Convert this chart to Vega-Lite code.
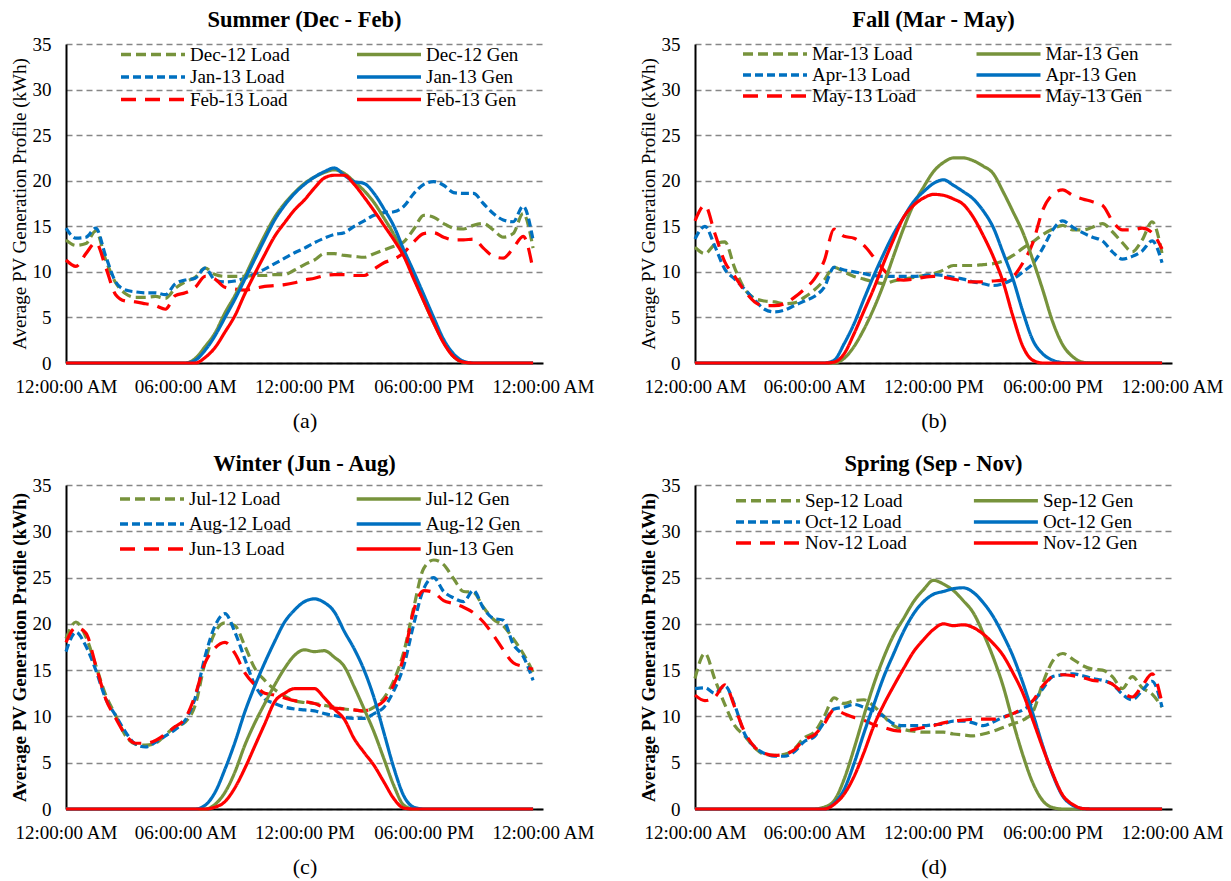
{
"$schema":"https://vega.github.io/schema/vega-lite/v6.json",
"background":"white",
"padding":{"left":10,"top":9,"right":4,"bottom":4},
"config":{
 "view":{"stroke":null},
 "font":"Liberation Serif",
 "axis":{"labelFont":"Liberation Serif","labelFontSize":19,"labelColor":"#000","titleFont":"Liberation Serif","titleColor":"#000","domainColor":"#000","domainWidth":2,"ticks":false},
 "axisX":{"grid":false,"labelPadding":14,"titleFontSize":22,"titleFontWeight":"normal","titlePadding":14,"labelOverlap":false,"labelBound":false,"labelFlush":false},
 "axisY":{"grid":true,"gridDash":[6,4],"gridColor":"#878787","gridWidth":1.3,"labelPadding":15,"titleFontSize":19,"titlePadding":3},
 "legend":{"orient":"none","columns":2,"symbolType":"M-4,0H4","symbolSize":256,"symbolOffset":22,"labelOffset":27,"symbolStrokeWidth":3.5,"padding":0,"labelFont":"Liberation Serif","labelFontSize":19,"labelColor":"#000","labelLimit":400},
 "title":{"font":"Liberation Serif","fontSize":22.5,"fontWeight":"bold","color":"#000","frame":"group"}
},
"datasets":{
"a":[
{"s":"Dec-12 Load","h":0,"v":13.5},{"s":"Dec-12 Load","h":0.5,"v":12.9},{"s":"Dec-12 Load","h":1,"v":13.1},{"s":"Dec-12 Load","h":1.5,"v":14.5},{"s":"Dec-12 Load","h":2,"v":11.3},{"s":"Dec-12 Load","h":2.5,"v":8.8},{"s":"Dec-12 Load","h":3,"v":7.6},{"s":"Dec-12 Load","h":3.5,"v":7.2},{"s":"Dec-12 Load","h":4,"v":7.2},{"s":"Dec-12 Load","h":4.5,"v":7.3},{"s":"Dec-12 Load","h":5,"v":7.1},{"s":"Dec-12 Load","h":5.5,"v":8.2},{"s":"Dec-12 Load","h":6,"v":8.9},{"s":"Dec-12 Load","h":6.5,"v":9.4},{"s":"Dec-12 Load","h":7,"v":10.4},{"s":"Dec-12 Load","h":7.5,"v":9.7},{"s":"Dec-12 Load","h":8,"v":9.5},{"s":"Dec-12 Load","h":8.5,"v":9.5},{"s":"Dec-12 Load","h":9,"v":9.5},{"s":"Dec-12 Load","h":9.5,"v":9.6},{"s":"Dec-12 Load","h":10,"v":9.6},{"s":"Dec-12 Load","h":10.5,"v":9.7},{"s":"Dec-12 Load","h":11,"v":9.7},{"s":"Dec-12 Load","h":11.5,"v":10.2},{"s":"Dec-12 Load","h":12,"v":10.8},{"s":"Dec-12 Load","h":12.5,"v":11.3},{"s":"Dec-12 Load","h":13,"v":12.0},{"s":"Dec-12 Load","h":13.5,"v":12.0},{"s":"Dec-12 Load","h":14,"v":11.8},{"s":"Dec-12 Load","h":14.5,"v":11.7},{"s":"Dec-12 Load","h":15,"v":11.6},{"s":"Dec-12 Load","h":15.5,"v":12.0},{"s":"Dec-12 Load","h":16,"v":12.4},{"s":"Dec-12 Load","h":16.5,"v":12.8},{"s":"Dec-12 Load","h":17,"v":13.3},{"s":"Dec-12 Load","h":17.5,"v":14.7},{"s":"Dec-12 Load","h":18,"v":16.2},{"s":"Dec-12 Load","h":18.5,"v":16.0},{"s":"Dec-12 Load","h":19,"v":15.3},{"s":"Dec-12 Load","h":19.5,"v":14.8},{"s":"Dec-12 Load","h":20,"v":14.7},{"s":"Dec-12 Load","h":20.5,"v":15.1},{"s":"Dec-12 Load","h":21,"v":15.3},{"s":"Dec-12 Load","h":21.5,"v":14.6},{"s":"Dec-12 Load","h":22,"v":13.8},{"s":"Dec-12 Load","h":22.5,"v":14.2},{"s":"Dec-12 Load","h":23,"v":16.4},{"s":"Dec-12 Load","h":23.5,"v":12.6},
{"s":"Jan-13 Load","h":0,"v":14.8},{"s":"Jan-13 Load","h":0.5,"v":13.7},{"s":"Jan-13 Load","h":1,"v":13.8},{"s":"Jan-13 Load","h":1.5,"v":14.8},{"s":"Jan-13 Load","h":2,"v":11.7},{"s":"Jan-13 Load","h":2.5,"v":8.9},{"s":"Jan-13 Load","h":3,"v":8.0},{"s":"Jan-13 Load","h":3.5,"v":7.8},{"s":"Jan-13 Load","h":4,"v":7.7},{"s":"Jan-13 Load","h":4.5,"v":7.7},{"s":"Jan-13 Load","h":5,"v":7.5},{"s":"Jan-13 Load","h":5.5,"v":8.7},{"s":"Jan-13 Load","h":6,"v":9.1},{"s":"Jan-13 Load","h":6.5,"v":9.3},{"s":"Jan-13 Load","h":7,"v":10.4},{"s":"Jan-13 Load","h":7.5,"v":9.1},{"s":"Jan-13 Load","h":8,"v":8.9},{"s":"Jan-13 Load","h":8.5,"v":9.0},{"s":"Jan-13 Load","h":9,"v":9.3},{"s":"Jan-13 Load","h":9.5,"v":9.8},{"s":"Jan-13 Load","h":10,"v":10.3},{"s":"Jan-13 Load","h":10.5,"v":10.9},{"s":"Jan-13 Load","h":11,"v":11.5},{"s":"Jan-13 Load","h":11.5,"v":12.1},{"s":"Jan-13 Load","h":12,"v":12.6},{"s":"Jan-13 Load","h":12.5,"v":13.2},{"s":"Jan-13 Load","h":13,"v":13.7},{"s":"Jan-13 Load","h":13.5,"v":14.1},{"s":"Jan-13 Load","h":14,"v":14.3},{"s":"Jan-13 Load","h":14.5,"v":15.0},{"s":"Jan-13 Load","h":15,"v":15.6},{"s":"Jan-13 Load","h":15.5,"v":16.2},{"s":"Jan-13 Load","h":16,"v":16.5},{"s":"Jan-13 Load","h":16.5,"v":16.6},{"s":"Jan-13 Load","h":17,"v":17.2},{"s":"Jan-13 Load","h":17.5,"v":18.6},{"s":"Jan-13 Load","h":18,"v":19.6},{"s":"Jan-13 Load","h":18.5,"v":19.9},{"s":"Jan-13 Load","h":19,"v":19.5},{"s":"Jan-13 Load","h":19.5,"v":18.7},{"s":"Jan-13 Load","h":20,"v":18.6},{"s":"Jan-13 Load","h":20.5,"v":18.6},{"s":"Jan-13 Load","h":21,"v":17.5},{"s":"Jan-13 Load","h":21.5,"v":16.4},{"s":"Jan-13 Load","h":22,"v":15.7},{"s":"Jan-13 Load","h":22.5,"v":15.5},{"s":"Jan-13 Load","h":23,"v":17.2},{"s":"Jan-13 Load","h":23.5,"v":13.5},
{"s":"Feb-13 Load","h":0,"v":11.3},{"s":"Feb-13 Load","h":0.5,"v":10.6},{"s":"Feb-13 Load","h":1,"v":12.0},{"s":"Feb-13 Load","h":1.5,"v":13.2},{"s":"Feb-13 Load","h":2,"v":10.5},{"s":"Feb-13 Load","h":2.5,"v":7.5},{"s":"Feb-13 Load","h":3,"v":6.8},{"s":"Feb-13 Load","h":3.5,"v":6.7},{"s":"Feb-13 Load","h":4,"v":6.5},{"s":"Feb-13 Load","h":4.5,"v":6.3},{"s":"Feb-13 Load","h":5,"v":5.9},{"s":"Feb-13 Load","h":5.5,"v":7.4},{"s":"Feb-13 Load","h":6,"v":7.7},{"s":"Feb-13 Load","h":6.5,"v":8.3},{"s":"Feb-13 Load","h":7,"v":9.5},{"s":"Feb-13 Load","h":7.5,"v":9.2},{"s":"Feb-13 Load","h":8,"v":8.3},{"s":"Feb-13 Load","h":8.5,"v":8.1},{"s":"Feb-13 Load","h":9,"v":8.0},{"s":"Feb-13 Load","h":9.5,"v":8.2},{"s":"Feb-13 Load","h":10,"v":8.4},{"s":"Feb-13 Load","h":10.5,"v":8.5},{"s":"Feb-13 Load","h":11,"v":8.6},{"s":"Feb-13 Load","h":11.5,"v":8.8},{"s":"Feb-13 Load","h":12,"v":9.1},{"s":"Feb-13 Load","h":12.5,"v":9.3},{"s":"Feb-13 Load","h":13,"v":9.6},{"s":"Feb-13 Load","h":13.5,"v":9.7},{"s":"Feb-13 Load","h":14,"v":9.7},{"s":"Feb-13 Load","h":14.5,"v":9.6},{"s":"Feb-13 Load","h":15,"v":9.6},{"s":"Feb-13 Load","h":15.5,"v":10.3},{"s":"Feb-13 Load","h":16,"v":11.0},{"s":"Feb-13 Load","h":16.5,"v":11.4},{"s":"Feb-13 Load","h":17,"v":12.1},{"s":"Feb-13 Load","h":17.5,"v":13.3},{"s":"Feb-13 Load","h":18,"v":14.2},{"s":"Feb-13 Load","h":18.5,"v":14.3},{"s":"Feb-13 Load","h":19,"v":13.8},{"s":"Feb-13 Load","h":19.5,"v":13.5},{"s":"Feb-13 Load","h":20,"v":13.5},{"s":"Feb-13 Load","h":20.5,"v":13.6},{"s":"Feb-13 Load","h":21,"v":12.6},{"s":"Feb-13 Load","h":21.5,"v":11.7},{"s":"Feb-13 Load","h":22,"v":11.5},{"s":"Feb-13 Load","h":22.5,"v":12.6},{"s":"Feb-13 Load","h":23,"v":13.9},{"s":"Feb-13 Load","h":23.5,"v":10.2},
{"s":"Dec-12 Gen","h":0,"v":0},{"s":"Dec-12 Gen","h":6,"v":0},{"s":"Dec-12 Gen","h":6.5,"v":0.5},{"s":"Dec-12 Gen","h":7,"v":1.8},{"s":"Dec-12 Gen","h":7.5,"v":3.3},{"s":"Dec-12 Gen","h":8,"v":5.5},{"s":"Dec-12 Gen","h":8.5,"v":7.4},{"s":"Dec-12 Gen","h":9,"v":9.5},{"s":"Dec-12 Gen","h":9.5,"v":11.8},{"s":"Dec-12 Gen","h":10,"v":14.0},{"s":"Dec-12 Gen","h":10.5,"v":16.0},{"s":"Dec-12 Gen","h":11,"v":17.5},{"s":"Dec-12 Gen","h":11.5,"v":18.7},{"s":"Dec-12 Gen","h":12,"v":19.7},{"s":"Dec-12 Gen","h":12.5,"v":20.4},{"s":"Dec-12 Gen","h":13,"v":20.9},{"s":"Dec-12 Gen","h":13.5,"v":21.2},{"s":"Dec-12 Gen","h":14,"v":20.8},{"s":"Dec-12 Gen","h":14.5,"v":19.9},{"s":"Dec-12 Gen","h":15,"v":18.9},{"s":"Dec-12 Gen","h":15.5,"v":17.6},{"s":"Dec-12 Gen","h":16,"v":15.9},{"s":"Dec-12 Gen","h":16.5,"v":14.1},{"s":"Dec-12 Gen","h":17,"v":11.9},{"s":"Dec-12 Gen","h":17.5,"v":9.4},{"s":"Dec-12 Gen","h":18,"v":6.8},{"s":"Dec-12 Gen","h":18.5,"v":4.4},{"s":"Dec-12 Gen","h":19,"v":2.3},{"s":"Dec-12 Gen","h":19.5,"v":0.7},{"s":"Dec-12 Gen","h":20,"v":0.1},{"s":"Dec-12 Gen","h":20.5,"v":0},{"s":"Dec-12 Gen","h":23.5,"v":0},
{"s":"Jan-13 Gen","h":0,"v":0},{"s":"Jan-13 Gen","h":6,"v":0},{"s":"Jan-13 Gen","h":6.5,"v":0.3},{"s":"Jan-13 Gen","h":7,"v":1.4},{"s":"Jan-13 Gen","h":7.5,"v":3.0},{"s":"Jan-13 Gen","h":8,"v":5.0},{"s":"Jan-13 Gen","h":8.5,"v":7.0},{"s":"Jan-13 Gen","h":9,"v":9.2},{"s":"Jan-13 Gen","h":9.5,"v":11.4},{"s":"Jan-13 Gen","h":10,"v":13.6},{"s":"Jan-13 Gen","h":10.5,"v":15.7},{"s":"Jan-13 Gen","h":11,"v":17.3},{"s":"Jan-13 Gen","h":11.5,"v":18.6},{"s":"Jan-13 Gen","h":12,"v":19.6},{"s":"Jan-13 Gen","h":12.5,"v":20.4},{"s":"Jan-13 Gen","h":13,"v":21.0},{"s":"Jan-13 Gen","h":13.5,"v":21.4},{"s":"Jan-13 Gen","h":14,"v":20.6},{"s":"Jan-13 Gen","h":14.5,"v":19.9},{"s":"Jan-13 Gen","h":15,"v":19.7},{"s":"Jan-13 Gen","h":15.5,"v":18.6},{"s":"Jan-13 Gen","h":16,"v":16.9},{"s":"Jan-13 Gen","h":16.5,"v":15.0},{"s":"Jan-13 Gen","h":17,"v":12.4},{"s":"Jan-13 Gen","h":17.5,"v":10.0},{"s":"Jan-13 Gen","h":18,"v":7.5},{"s":"Jan-13 Gen","h":18.5,"v":5.0},{"s":"Jan-13 Gen","h":19,"v":2.6},{"s":"Jan-13 Gen","h":19.5,"v":1.0},{"s":"Jan-13 Gen","h":20,"v":0.2},{"s":"Jan-13 Gen","h":20.5,"v":0},{"s":"Jan-13 Gen","h":23.5,"v":0},
{"s":"Feb-13 Gen","h":0,"v":0},{"s":"Feb-13 Gen","h":6.5,"v":0},{"s":"Feb-13 Gen","h":7,"v":0.6},{"s":"Feb-13 Gen","h":7.5,"v":1.7},{"s":"Feb-13 Gen","h":8,"v":3.4},{"s":"Feb-13 Gen","h":8.5,"v":5.2},{"s":"Feb-13 Gen","h":9,"v":7.6},{"s":"Feb-13 Gen","h":9.5,"v":9.8},{"s":"Feb-13 Gen","h":10,"v":11.9},{"s":"Feb-13 Gen","h":10.5,"v":13.9},{"s":"Feb-13 Gen","h":11,"v":15.4},{"s":"Feb-13 Gen","h":11.5,"v":16.8},{"s":"Feb-13 Gen","h":12,"v":17.9},{"s":"Feb-13 Gen","h":12.5,"v":19.2},{"s":"Feb-13 Gen","h":13,"v":20.3},{"s":"Feb-13 Gen","h":13.5,"v":20.6},{"s":"Feb-13 Gen","h":14,"v":20.6},{"s":"Feb-13 Gen","h":14.5,"v":19.6},{"s":"Feb-13 Gen","h":15,"v":18.2},{"s":"Feb-13 Gen","h":15.5,"v":16.7},{"s":"Feb-13 Gen","h":16,"v":15.1},{"s":"Feb-13 Gen","h":16.5,"v":13.5},{"s":"Feb-13 Gen","h":17,"v":11.7},{"s":"Feb-13 Gen","h":17.5,"v":9.2},{"s":"Feb-13 Gen","h":18,"v":6.8},{"s":"Feb-13 Gen","h":18.5,"v":4.4},{"s":"Feb-13 Gen","h":19,"v":2.2},{"s":"Feb-13 Gen","h":19.5,"v":0.7},{"s":"Feb-13 Gen","h":20,"v":0.1},{"s":"Feb-13 Gen","h":20.5,"v":0},{"s":"Feb-13 Gen","h":23.5,"v":0}
],
"b":[
{"s":"Mar-13 Load","h":0,"v":12.7},{"s":"Mar-13 Load","h":0.5,"v":12.0},{"s":"Mar-13 Load","h":1,"v":13.0},{"s":"Mar-13 Load","h":1.5,"v":13.3},{"s":"Mar-13 Load","h":2,"v":10.4},{"s":"Mar-13 Load","h":2.5,"v":8.1},{"s":"Mar-13 Load","h":3,"v":7.1},{"s":"Mar-13 Load","h":3.5,"v":6.8},{"s":"Mar-13 Load","h":4,"v":6.7},{"s":"Mar-13 Load","h":4.5,"v":6.5},{"s":"Mar-13 Load","h":5,"v":6.6},{"s":"Mar-13 Load","h":5.5,"v":7.2},{"s":"Mar-13 Load","h":6,"v":8.0},{"s":"Mar-13 Load","h":6.5,"v":9.1},{"s":"Mar-13 Load","h":7,"v":10.5},{"s":"Mar-13 Load","h":7.5,"v":10.0},{"s":"Mar-13 Load","h":8,"v":9.5},{"s":"Mar-13 Load","h":8.5,"v":9.2},{"s":"Mar-13 Load","h":9,"v":8.9},{"s":"Mar-13 Load","h":9.5,"v":8.7},{"s":"Mar-13 Load","h":10,"v":9.0},{"s":"Mar-13 Load","h":10.5,"v":9.2},{"s":"Mar-13 Load","h":11,"v":9.4},{"s":"Mar-13 Load","h":11.5,"v":9.6},{"s":"Mar-13 Load","h":12,"v":9.8},{"s":"Mar-13 Load","h":12.5,"v":10.2},{"s":"Mar-13 Load","h":13,"v":10.7},{"s":"Mar-13 Load","h":13.5,"v":10.7},{"s":"Mar-13 Load","h":14,"v":10.7},{"s":"Mar-13 Load","h":14.5,"v":10.8},{"s":"Mar-13 Load","h":15,"v":10.9},{"s":"Mar-13 Load","h":15.5,"v":11.2},{"s":"Mar-13 Load","h":16,"v":11.8},{"s":"Mar-13 Load","h":16.5,"v":12.6},{"s":"Mar-13 Load","h":17,"v":13.3},{"s":"Mar-13 Load","h":17.5,"v":14.1},{"s":"Mar-13 Load","h":18,"v":14.7},{"s":"Mar-13 Load","h":18.5,"v":15.1},{"s":"Mar-13 Load","h":19,"v":14.6},{"s":"Mar-13 Load","h":19.5,"v":14.6},{"s":"Mar-13 Load","h":20,"v":14.9},{"s":"Mar-13 Load","h":20.5,"v":15.3},{"s":"Mar-13 Load","h":21,"v":14.4},{"s":"Mar-13 Load","h":21.5,"v":13.2},{"s":"Mar-13 Load","h":22,"v":12.2},{"s":"Mar-13 Load","h":22.5,"v":13.5},{"s":"Mar-13 Load","h":23,"v":15.5},{"s":"Mar-13 Load","h":23.5,"v":12.0},
{"s":"Apr-13 Load","h":0,"v":13.6},{"s":"Apr-13 Load","h":0.5,"v":15.0},{"s":"Apr-13 Load","h":1,"v":12.8},{"s":"Apr-13 Load","h":1.5,"v":10.3},{"s":"Apr-13 Load","h":2,"v":9.2},{"s":"Apr-13 Load","h":2.5,"v":8.1},{"s":"Apr-13 Load","h":3,"v":6.9},{"s":"Apr-13 Load","h":3.5,"v":5.9},{"s":"Apr-13 Load","h":4,"v":5.6},{"s":"Apr-13 Load","h":4.5,"v":5.8},{"s":"Apr-13 Load","h":5,"v":6.3},{"s":"Apr-13 Load","h":5.5,"v":6.8},{"s":"Apr-13 Load","h":6,"v":7.3},{"s":"Apr-13 Load","h":6.5,"v":8.3},{"s":"Apr-13 Load","h":7,"v":10.5},{"s":"Apr-13 Load","h":7.5,"v":10.2},{"s":"Apr-13 Load","h":8,"v":10.0},{"s":"Apr-13 Load","h":8.5,"v":9.8},{"s":"Apr-13 Load","h":9,"v":9.6},{"s":"Apr-13 Load","h":9.5,"v":9.5},{"s":"Apr-13 Load","h":10,"v":9.5},{"s":"Apr-13 Load","h":10.5,"v":9.5},{"s":"Apr-13 Load","h":11,"v":9.5},{"s":"Apr-13 Load","h":11.5,"v":9.6},{"s":"Apr-13 Load","h":12,"v":9.7},{"s":"Apr-13 Load","h":12.5,"v":9.6},{"s":"Apr-13 Load","h":13,"v":9.4},{"s":"Apr-13 Load","h":13.5,"v":9.2},{"s":"Apr-13 Load","h":14,"v":8.9},{"s":"Apr-13 Load","h":14.5,"v":8.7},{"s":"Apr-13 Load","h":15,"v":8.5},{"s":"Apr-13 Load","h":15.5,"v":8.7},{"s":"Apr-13 Load","h":16,"v":9.2},{"s":"Apr-13 Load","h":16.5,"v":10.0},{"s":"Apr-13 Load","h":17,"v":10.9},{"s":"Apr-13 Load","h":17.5,"v":12.6},{"s":"Apr-13 Load","h":18,"v":14.6},{"s":"Apr-13 Load","h":18.5,"v":15.6},{"s":"Apr-13 Load","h":19,"v":14.9},{"s":"Apr-13 Load","h":19.5,"v":14.3},{"s":"Apr-13 Load","h":20,"v":13.8},{"s":"Apr-13 Load","h":20.5,"v":13.4},{"s":"Apr-13 Load","h":21,"v":12.2},{"s":"Apr-13 Load","h":21.5,"v":11.4},{"s":"Apr-13 Load","h":22,"v":11.7},{"s":"Apr-13 Load","h":22.5,"v":12.3},{"s":"Apr-13 Load","h":23,"v":13.4},{"s":"Apr-13 Load","h":23.5,"v":11.0},
{"s":"May-13 Load","h":0,"v":15.6},{"s":"May-13 Load","h":0.5,"v":17.3},{"s":"May-13 Load","h":1,"v":14.2},{"s":"May-13 Load","h":1.5,"v":11.1},{"s":"May-13 Load","h":2,"v":9.5},{"s":"May-13 Load","h":2.5,"v":7.9},{"s":"May-13 Load","h":3,"v":6.7},{"s":"May-13 Load","h":3.5,"v":6.3},{"s":"May-13 Load","h":4,"v":6.3},{"s":"May-13 Load","h":4.5,"v":6.5},{"s":"May-13 Load","h":5,"v":7.2},{"s":"May-13 Load","h":5.5,"v":8.1},{"s":"May-13 Load","h":6,"v":9.2},{"s":"May-13 Load","h":6.5,"v":11.2},{"s":"May-13 Load","h":7,"v":14.7},{"s":"May-13 Load","h":7.5,"v":13.9},{"s":"May-13 Load","h":8,"v":13.7},{"s":"May-13 Load","h":8.5,"v":12.9},{"s":"May-13 Load","h":9,"v":11.6},{"s":"May-13 Load","h":9.5,"v":10.2},{"s":"May-13 Load","h":10,"v":9.3},{"s":"May-13 Load","h":10.5,"v":9.1},{"s":"May-13 Load","h":11,"v":9.2},{"s":"May-13 Load","h":11.5,"v":9.4},{"s":"May-13 Load","h":12,"v":9.5},{"s":"May-13 Load","h":12.5,"v":9.4},{"s":"May-13 Load","h":13,"v":9.2},{"s":"May-13 Load","h":13.5,"v":9.0},{"s":"May-13 Load","h":14,"v":8.9},{"s":"May-13 Load","h":14.5,"v":8.9},{"s":"May-13 Load","h":15,"v":9.0},{"s":"May-13 Load","h":15.5,"v":9.1},{"s":"May-13 Load","h":16,"v":9.5},{"s":"May-13 Load","h":16.5,"v":11.0},{"s":"May-13 Load","h":17,"v":13.2},{"s":"May-13 Load","h":17.5,"v":16.8},{"s":"May-13 Load","h":18,"v":18.5},{"s":"May-13 Load","h":18.5,"v":19.0},{"s":"May-13 Load","h":19,"v":18.4},{"s":"May-13 Load","h":19.5,"v":18.0},{"s":"May-13 Load","h":20,"v":17.7},{"s":"May-13 Load","h":20.5,"v":17.3},{"s":"May-13 Load","h":21,"v":15.6},{"s":"May-13 Load","h":21.5,"v":14.6},{"s":"May-13 Load","h":22,"v":14.6},{"s":"May-13 Load","h":22.5,"v":14.8},{"s":"May-13 Load","h":23,"v":14.3},{"s":"May-13 Load","h":23.5,"v":12.5},
{"s":"Mar-13 Gen","h":0,"v":0},{"s":"Mar-13 Gen","h":7,"v":0},{"s":"Mar-13 Gen","h":7.5,"v":0.5},{"s":"Mar-13 Gen","h":8,"v":1.8},{"s":"Mar-13 Gen","h":8.5,"v":3.7},{"s":"Mar-13 Gen","h":9,"v":6.0},{"s":"Mar-13 Gen","h":9.5,"v":8.7},{"s":"Mar-13 Gen","h":10,"v":11.8},{"s":"Mar-13 Gen","h":10.5,"v":14.8},{"s":"Mar-13 Gen","h":11,"v":17.4},{"s":"Mar-13 Gen","h":11.5,"v":19.3},{"s":"Mar-13 Gen","h":12,"v":21.0},{"s":"Mar-13 Gen","h":12.5,"v":22.0},{"s":"Mar-13 Gen","h":13,"v":22.5},{"s":"Mar-13 Gen","h":13.5,"v":22.5},{"s":"Mar-13 Gen","h":14,"v":22.2},{"s":"Mar-13 Gen","h":14.5,"v":21.6},{"s":"Mar-13 Gen","h":15,"v":20.8},{"s":"Mar-13 Gen","h":15.5,"v":18.8},{"s":"Mar-13 Gen","h":16,"v":16.6},{"s":"Mar-13 Gen","h":16.5,"v":14.3},{"s":"Mar-13 Gen","h":17,"v":11.3},{"s":"Mar-13 Gen","h":17.5,"v":8.0},{"s":"Mar-13 Gen","h":18,"v":4.5},{"s":"Mar-13 Gen","h":18.5,"v":2.0},{"s":"Mar-13 Gen","h":19,"v":0.7},{"s":"Mar-13 Gen","h":19.5,"v":0.1},{"s":"Mar-13 Gen","h":20,"v":0},{"s":"Mar-13 Gen","h":23.5,"v":0},
{"s":"Apr-13 Gen","h":0,"v":0},{"s":"Apr-13 Gen","h":6.5,"v":0},{"s":"Apr-13 Gen","h":7,"v":0.3},{"s":"Apr-13 Gen","h":7.5,"v":2.1},{"s":"Apr-13 Gen","h":8,"v":4.3},{"s":"Apr-13 Gen","h":8.5,"v":7.0},{"s":"Apr-13 Gen","h":9,"v":9.6},{"s":"Apr-13 Gen","h":9.5,"v":12.0},{"s":"Apr-13 Gen","h":10,"v":14.2},{"s":"Apr-13 Gen","h":10.5,"v":16.0},{"s":"Apr-13 Gen","h":11,"v":17.7},{"s":"Apr-13 Gen","h":11.5,"v":18.8},{"s":"Apr-13 Gen","h":12,"v":19.7},{"s":"Apr-13 Gen","h":12.5,"v":20.1},{"s":"Apr-13 Gen","h":13,"v":19.5},{"s":"Apr-13 Gen","h":13.5,"v":18.8},{"s":"Apr-13 Gen","h":14,"v":18.0},{"s":"Apr-13 Gen","h":14.5,"v":16.7},{"s":"Apr-13 Gen","h":15,"v":14.9},{"s":"Apr-13 Gen","h":15.5,"v":12.1},{"s":"Apr-13 Gen","h":16,"v":9.2},{"s":"Apr-13 Gen","h":16.5,"v":5.6},{"s":"Apr-13 Gen","h":17,"v":2.5},{"s":"Apr-13 Gen","h":17.5,"v":1.0},{"s":"Apr-13 Gen","h":18,"v":0.3},{"s":"Apr-13 Gen","h":18.5,"v":0.05},{"s":"Apr-13 Gen","h":19,"v":0},{"s":"Apr-13 Gen","h":23.5,"v":0},
{"s":"May-13 Gen","h":0,"v":0},{"s":"May-13 Gen","h":6.5,"v":0},{"s":"May-13 Gen","h":7,"v":0.1},{"s":"May-13 Gen","h":7.5,"v":1.0},{"s":"May-13 Gen","h":8,"v":3.2},{"s":"May-13 Gen","h":8.5,"v":5.7},{"s":"May-13 Gen","h":9,"v":8.2},{"s":"May-13 Gen","h":9.5,"v":11.0},{"s":"May-13 Gen","h":10,"v":13.6},{"s":"May-13 Gen","h":10.5,"v":16.0},{"s":"May-13 Gen","h":11,"v":17.3},{"s":"May-13 Gen","h":11.5,"v":18.1},{"s":"May-13 Gen","h":12,"v":18.5},{"s":"May-13 Gen","h":12.5,"v":18.4},{"s":"May-13 Gen","h":13,"v":18.0},{"s":"May-13 Gen","h":13.5,"v":17.4},{"s":"May-13 Gen","h":14,"v":16.0},{"s":"May-13 Gen","h":14.5,"v":14.0},{"s":"May-13 Gen","h":15,"v":11.7},{"s":"May-13 Gen","h":15.5,"v":8.9},{"s":"May-13 Gen","h":16,"v":5.1},{"s":"May-13 Gen","h":16.5,"v":1.8},{"s":"May-13 Gen","h":17,"v":0.3},{"s":"May-13 Gen","h":17.5,"v":0},{"s":"May-13 Gen","h":23.5,"v":0}
],
"c":[
{"s":"Jul-12 Load","h":0,"v":18.4},{"s":"Jul-12 Load","h":0.5,"v":20.2},{"s":"Jul-12 Load","h":1,"v":18.6},{"s":"Jul-12 Load","h":1.5,"v":15.5},{"s":"Jul-12 Load","h":2,"v":12.3},{"s":"Jul-12 Load","h":2.5,"v":10.1},{"s":"Jul-12 Load","h":3,"v":7.9},{"s":"Jul-12 Load","h":3.5,"v":7.0},{"s":"Jul-12 Load","h":4,"v":6.9},{"s":"Jul-12 Load","h":4.5,"v":7.1},{"s":"Jul-12 Load","h":5,"v":8.0},{"s":"Jul-12 Load","h":5.5,"v":8.9},{"s":"Jul-12 Load","h":6,"v":9.4},{"s":"Jul-12 Load","h":6.5,"v":11.2},{"s":"Jul-12 Load","h":7,"v":15.9},{"s":"Jul-12 Load","h":7.5,"v":19.1},{"s":"Jul-12 Load","h":8,"v":20.1},{"s":"Jul-12 Load","h":8.5,"v":19.8},{"s":"Jul-12 Load","h":9,"v":17.6},{"s":"Jul-12 Load","h":9.5,"v":15.2},{"s":"Jul-12 Load","h":10,"v":13.9},{"s":"Jul-12 Load","h":10.5,"v":12.9},{"s":"Jul-12 Load","h":11,"v":12.2},{"s":"Jul-12 Load","h":11.5,"v":11.7},{"s":"Jul-12 Load","h":12,"v":11.5},{"s":"Jul-12 Load","h":12.5,"v":11.4},{"s":"Jul-12 Load","h":13,"v":11.2},{"s":"Jul-12 Load","h":13.5,"v":11.0},{"s":"Jul-12 Load","h":14,"v":10.8},{"s":"Jul-12 Load","h":14.5,"v":10.7},{"s":"Jul-12 Load","h":15,"v":10.6},{"s":"Jul-12 Load","h":15.5,"v":11.0},{"s":"Jul-12 Load","h":16,"v":12.0},{"s":"Jul-12 Load","h":16.5,"v":13.9},{"s":"Jul-12 Load","h":17,"v":17.0},{"s":"Jul-12 Load","h":17.5,"v":21.8},{"s":"Jul-12 Load","h":18,"v":26.0},{"s":"Jul-12 Load","h":18.5,"v":26.9},{"s":"Jul-12 Load","h":19,"v":26.4},{"s":"Jul-12 Load","h":19.5,"v":24.9},{"s":"Jul-12 Load","h":20,"v":23.5},{"s":"Jul-12 Load","h":20.5,"v":23.4},{"s":"Jul-12 Load","h":21,"v":21.8},{"s":"Jul-12 Load","h":21.5,"v":20.5},{"s":"Jul-12 Load","h":22,"v":19.8},{"s":"Jul-12 Load","h":22.5,"v":18.4},{"s":"Jul-12 Load","h":23,"v":16.8},{"s":"Jul-12 Load","h":23.5,"v":14.8},
{"s":"Aug-12 Load","h":0,"v":17.0},{"s":"Aug-12 Load","h":0.5,"v":19.1},{"s":"Aug-12 Load","h":1,"v":17.6},{"s":"Aug-12 Load","h":1.5,"v":15.0},{"s":"Aug-12 Load","h":2,"v":11.9},{"s":"Aug-12 Load","h":2.5,"v":10.1},{"s":"Aug-12 Load","h":3,"v":8.3},{"s":"Aug-12 Load","h":3.5,"v":7.0},{"s":"Aug-12 Load","h":4,"v":6.7},{"s":"Aug-12 Load","h":4.5,"v":7.2},{"s":"Aug-12 Load","h":5,"v":7.9},{"s":"Aug-12 Load","h":5.5,"v":8.6},{"s":"Aug-12 Load","h":6,"v":9.6},{"s":"Aug-12 Load","h":6.5,"v":12.0},{"s":"Aug-12 Load","h":7,"v":16.5},{"s":"Aug-12 Load","h":7.5,"v":19.8},{"s":"Aug-12 Load","h":8,"v":21.1},{"s":"Aug-12 Load","h":8.5,"v":19.1},{"s":"Aug-12 Load","h":9,"v":16.2},{"s":"Aug-12 Load","h":9.5,"v":13.4},{"s":"Aug-12 Load","h":10,"v":11.9},{"s":"Aug-12 Load","h":10.5,"v":11.4},{"s":"Aug-12 Load","h":11,"v":11.0},{"s":"Aug-12 Load","h":11.5,"v":10.8},{"s":"Aug-12 Load","h":12,"v":10.7},{"s":"Aug-12 Load","h":12.5,"v":10.6},{"s":"Aug-12 Load","h":13,"v":10.3},{"s":"Aug-12 Load","h":13.5,"v":10.1},{"s":"Aug-12 Load","h":14,"v":9.9},{"s":"Aug-12 Load","h":14.5,"v":9.8},{"s":"Aug-12 Load","h":15,"v":9.8},{"s":"Aug-12 Load","h":15.5,"v":10.3},{"s":"Aug-12 Load","h":16,"v":11.0},{"s":"Aug-12 Load","h":16.5,"v":12.8},{"s":"Aug-12 Load","h":17,"v":15.5},{"s":"Aug-12 Load","h":17.5,"v":20.0},{"s":"Aug-12 Load","h":18,"v":23.8},{"s":"Aug-12 Load","h":18.5,"v":25.0},{"s":"Aug-12 Load","h":19,"v":23.5},{"s":"Aug-12 Load","h":19.5,"v":22.8},{"s":"Aug-12 Load","h":20,"v":22.4},{"s":"Aug-12 Load","h":20.5,"v":23.6},{"s":"Aug-12 Load","h":21,"v":21.7},{"s":"Aug-12 Load","h":21.5,"v":20.6},{"s":"Aug-12 Load","h":22,"v":20.4},{"s":"Aug-12 Load","h":22.5,"v":17.8},{"s":"Aug-12 Load","h":23,"v":16.5},{"s":"Aug-12 Load","h":23.5,"v":13.9},
{"s":"Jun-13 Load","h":0,"v":18.0},{"s":"Jun-13 Load","h":0.5,"v":19.6},{"s":"Jun-13 Load","h":1,"v":19.0},{"s":"Jun-13 Load","h":1.5,"v":15.5},{"s":"Jun-13 Load","h":2,"v":11.9},{"s":"Jun-13 Load","h":2.5,"v":9.8},{"s":"Jun-13 Load","h":3,"v":8.0},{"s":"Jun-13 Load","h":3.5,"v":7.1},{"s":"Jun-13 Load","h":4,"v":7.1},{"s":"Jun-13 Load","h":4.5,"v":7.4},{"s":"Jun-13 Load","h":5,"v":8.1},{"s":"Jun-13 Load","h":5.5,"v":8.9},{"s":"Jun-13 Load","h":6,"v":9.8},{"s":"Jun-13 Load","h":6.5,"v":12.3},{"s":"Jun-13 Load","h":7,"v":15.8},{"s":"Jun-13 Load","h":7.5,"v":17.4},{"s":"Jun-13 Load","h":8,"v":18.0},{"s":"Jun-13 Load","h":8.5,"v":16.8},{"s":"Jun-13 Load","h":9,"v":14.7},{"s":"Jun-13 Load","h":9.5,"v":13.4},{"s":"Jun-13 Load","h":10,"v":12.5},{"s":"Jun-13 Load","h":10.5,"v":12.3},{"s":"Jun-13 Load","h":11,"v":12.0},{"s":"Jun-13 Load","h":11.5,"v":11.7},{"s":"Jun-13 Load","h":12,"v":11.6},{"s":"Jun-13 Load","h":12.5,"v":11.4},{"s":"Jun-13 Load","h":13,"v":11.0},{"s":"Jun-13 Load","h":13.5,"v":10.9},{"s":"Jun-13 Load","h":14,"v":10.8},{"s":"Jun-13 Load","h":14.5,"v":10.7},{"s":"Jun-13 Load","h":15,"v":10.6},{"s":"Jun-13 Load","h":15.5,"v":11.0},{"s":"Jun-13 Load","h":16,"v":11.7},{"s":"Jun-13 Load","h":16.5,"v":13.5},{"s":"Jun-13 Load","h":17,"v":16.5},{"s":"Jun-13 Load","h":17.5,"v":21.5},{"s":"Jun-13 Load","h":18,"v":23.6},{"s":"Jun-13 Load","h":18.5,"v":23.4},{"s":"Jun-13 Load","h":19,"v":22.5},{"s":"Jun-13 Load","h":19.5,"v":22.2},{"s":"Jun-13 Load","h":20,"v":21.8},{"s":"Jun-13 Load","h":20.5,"v":21.2},{"s":"Jun-13 Load","h":21,"v":20.2},{"s":"Jun-13 Load","h":21.5,"v":18.8},{"s":"Jun-13 Load","h":22,"v":17.2},{"s":"Jun-13 Load","h":22.5,"v":15.8},{"s":"Jun-13 Load","h":23,"v":15.4},{"s":"Jun-13 Load","h":23.5,"v":15.1},
{"s":"Jul-12 Gen","h":0,"v":0},{"s":"Jul-12 Gen","h":7,"v":0},{"s":"Jul-12 Gen","h":7.5,"v":0.5},{"s":"Jul-12 Gen","h":8,"v":1.8},{"s":"Jul-12 Gen","h":8.5,"v":4.0},{"s":"Jul-12 Gen","h":9,"v":6.9},{"s":"Jul-12 Gen","h":9.5,"v":9.3},{"s":"Jul-12 Gen","h":10,"v":11.4},{"s":"Jul-12 Gen","h":10.5,"v":13.4},{"s":"Jul-12 Gen","h":11,"v":15.2},{"s":"Jul-12 Gen","h":11.5,"v":16.6},{"s":"Jul-12 Gen","h":12,"v":17.2},{"s":"Jul-12 Gen","h":12.5,"v":17.0},{"s":"Jul-12 Gen","h":13,"v":17.1},{"s":"Jul-12 Gen","h":13.5,"v":16.4},{"s":"Jul-12 Gen","h":14,"v":15.4},{"s":"Jul-12 Gen","h":14.5,"v":13.2},{"s":"Jul-12 Gen","h":15,"v":10.8},{"s":"Jul-12 Gen","h":15.5,"v":8.3},{"s":"Jul-12 Gen","h":16,"v":5.4},{"s":"Jul-12 Gen","h":16.5,"v":2.5},{"s":"Jul-12 Gen","h":17,"v":0.4},{"s":"Jul-12 Gen","h":17.5,"v":0},{"s":"Jul-12 Gen","h":23.5,"v":0},
{"s":"Aug-12 Gen","h":0,"v":0},{"s":"Aug-12 Gen","h":6.5,"v":0},{"s":"Aug-12 Gen","h":7,"v":0.4},{"s":"Aug-12 Gen","h":7.5,"v":1.8},{"s":"Aug-12 Gen","h":8,"v":4.3},{"s":"Aug-12 Gen","h":8.5,"v":7.2},{"s":"Aug-12 Gen","h":9,"v":10.5},{"s":"Aug-12 Gen","h":9.5,"v":13.3},{"s":"Aug-12 Gen","h":10,"v":15.8},{"s":"Aug-12 Gen","h":10.5,"v":18.1},{"s":"Aug-12 Gen","h":11,"v":20.2},{"s":"Aug-12 Gen","h":11.5,"v":21.5},{"s":"Aug-12 Gen","h":12,"v":22.4},{"s":"Aug-12 Gen","h":12.5,"v":22.7},{"s":"Aug-12 Gen","h":13,"v":22.3},{"s":"Aug-12 Gen","h":13.5,"v":21.3},{"s":"Aug-12 Gen","h":14,"v":19.2},{"s":"Aug-12 Gen","h":14.5,"v":17.3},{"s":"Aug-12 Gen","h":15,"v":15.0},{"s":"Aug-12 Gen","h":15.5,"v":12.0},{"s":"Aug-12 Gen","h":16,"v":8.2},{"s":"Aug-12 Gen","h":16.5,"v":4.4},{"s":"Aug-12 Gen","h":17,"v":1.4},{"s":"Aug-12 Gen","h":17.5,"v":0.2},{"s":"Aug-12 Gen","h":18,"v":0},{"s":"Aug-12 Gen","h":23.5,"v":0},
{"s":"Jun-13 Gen","h":0,"v":0},{"s":"Jun-13 Gen","h":7,"v":0},{"s":"Jun-13 Gen","h":7.5,"v":0.2},{"s":"Jun-13 Gen","h":8,"v":0.8},{"s":"Jun-13 Gen","h":8.5,"v":2.3},{"s":"Jun-13 Gen","h":9,"v":4.4},{"s":"Jun-13 Gen","h":9.5,"v":6.8},{"s":"Jun-13 Gen","h":10,"v":9.2},{"s":"Jun-13 Gen","h":10.5,"v":11.6},{"s":"Jun-13 Gen","h":11,"v":12.5},{"s":"Jun-13 Gen","h":11.5,"v":13.0},{"s":"Jun-13 Gen","h":12,"v":13.0},{"s":"Jun-13 Gen","h":12.5,"v":13.0},{"s":"Jun-13 Gen","h":13,"v":12.0},{"s":"Jun-13 Gen","h":13.5,"v":10.8},{"s":"Jun-13 Gen","h":14,"v":9.7},{"s":"Jun-13 Gen","h":14.5,"v":7.6},{"s":"Jun-13 Gen","h":15,"v":6.1},{"s":"Jun-13 Gen","h":15.5,"v":4.7},{"s":"Jun-13 Gen","h":16,"v":2.9},{"s":"Jun-13 Gen","h":16.5,"v":1.1},{"s":"Jun-13 Gen","h":17,"v":0.1},{"s":"Jun-13 Gen","h":17.5,"v":0},{"s":"Jun-13 Gen","h":23.5,"v":0}
],
"d":[
{"s":"Sep-12 Load","h":0,"v":14.1},{"s":"Sep-12 Load","h":0.5,"v":16.8},{"s":"Sep-12 Load","h":1,"v":14.0},{"s":"Sep-12 Load","h":1.5,"v":11.3},{"s":"Sep-12 Load","h":2,"v":9.0},{"s":"Sep-12 Load","h":2.5,"v":7.9},{"s":"Sep-12 Load","h":3,"v":6.6},{"s":"Sep-12 Load","h":3.5,"v":5.9},{"s":"Sep-12 Load","h":4,"v":5.8},{"s":"Sep-12 Load","h":4.5,"v":5.9},{"s":"Sep-12 Load","h":5,"v":6.5},{"s":"Sep-12 Load","h":5.5,"v":7.7},{"s":"Sep-12 Load","h":6,"v":8.3},{"s":"Sep-12 Load","h":6.5,"v":10.0},{"s":"Sep-12 Load","h":7,"v":12.0},{"s":"Sep-12 Load","h":7.5,"v":11.4},{"s":"Sep-12 Load","h":8,"v":11.7},{"s":"Sep-12 Load","h":8.5,"v":11.8},{"s":"Sep-12 Load","h":9,"v":11.1},{"s":"Sep-12 Load","h":9.5,"v":10.0},{"s":"Sep-12 Load","h":10,"v":9.0},{"s":"Sep-12 Load","h":10.5,"v":8.6},{"s":"Sep-12 Load","h":11,"v":8.4},{"s":"Sep-12 Load","h":11.5,"v":8.3},{"s":"Sep-12 Load","h":12,"v":8.3},{"s":"Sep-12 Load","h":12.5,"v":8.3},{"s":"Sep-12 Load","h":13,"v":8.1},{"s":"Sep-12 Load","h":13.5,"v":8.0},{"s":"Sep-12 Load","h":14,"v":7.9},{"s":"Sep-12 Load","h":14.5,"v":8.1},{"s":"Sep-12 Load","h":15,"v":8.4},{"s":"Sep-12 Load","h":15.5,"v":8.8},{"s":"Sep-12 Load","h":16,"v":9.2},{"s":"Sep-12 Load","h":16.5,"v":9.6},{"s":"Sep-12 Load","h":17,"v":10.5},{"s":"Sep-12 Load","h":17.5,"v":13.6},{"s":"Sep-12 Load","h":18,"v":16.0},{"s":"Sep-12 Load","h":18.5,"v":16.8},{"s":"Sep-12 Load","h":19,"v":16.2},{"s":"Sep-12 Load","h":19.5,"v":15.5},{"s":"Sep-12 Load","h":20,"v":15.1},{"s":"Sep-12 Load","h":20.5,"v":15.0},{"s":"Sep-12 Load","h":21,"v":14.3},{"s":"Sep-12 Load","h":21.5,"v":13.0},{"s":"Sep-12 Load","h":22,"v":14.3},{"s":"Sep-12 Load","h":22.5,"v":13.1},{"s":"Sep-12 Load","h":23,"v":12.4},{"s":"Sep-12 Load","h":23.5,"v":11.0},
{"s":"Oct-12 Load","h":0,"v":13.0},{"s":"Oct-12 Load","h":0.5,"v":13.1},{"s":"Oct-12 Load","h":1,"v":12.5},{"s":"Oct-12 Load","h":1.5,"v":13.3},{"s":"Oct-12 Load","h":2,"v":11.2},{"s":"Oct-12 Load","h":2.5,"v":8.1},{"s":"Oct-12 Load","h":3,"v":6.7},{"s":"Oct-12 Load","h":3.5,"v":6.0},{"s":"Oct-12 Load","h":4,"v":5.7},{"s":"Oct-12 Load","h":4.5,"v":5.7},{"s":"Oct-12 Load","h":5,"v":6.2},{"s":"Oct-12 Load","h":5.5,"v":7.3},{"s":"Oct-12 Load","h":6,"v":7.8},{"s":"Oct-12 Load","h":6.5,"v":9.4},{"s":"Oct-12 Load","h":7,"v":10.8},{"s":"Oct-12 Load","h":7.5,"v":11.0},{"s":"Oct-12 Load","h":8,"v":11.3},{"s":"Oct-12 Load","h":8.5,"v":11.0},{"s":"Oct-12 Load","h":9,"v":10.6},{"s":"Oct-12 Load","h":9.5,"v":10.0},{"s":"Oct-12 Load","h":10,"v":9.2},{"s":"Oct-12 Load","h":10.5,"v":9.0},{"s":"Oct-12 Load","h":11,"v":9.0},{"s":"Oct-12 Load","h":11.5,"v":9.0},{"s":"Oct-12 Load","h":12,"v":9.1},{"s":"Oct-12 Load","h":12.5,"v":9.2},{"s":"Oct-12 Load","h":13,"v":9.5},{"s":"Oct-12 Load","h":13.5,"v":9.5},{"s":"Oct-12 Load","h":14,"v":9.3},{"s":"Oct-12 Load","h":14.5,"v":9.0},{"s":"Oct-12 Load","h":15,"v":9.4},{"s":"Oct-12 Load","h":15.5,"v":9.9},{"s":"Oct-12 Load","h":16,"v":10.3},{"s":"Oct-12 Load","h":16.5,"v":10.7},{"s":"Oct-12 Load","h":17,"v":11.5},{"s":"Oct-12 Load","h":17.5,"v":13.0},{"s":"Oct-12 Load","h":18,"v":14.3},{"s":"Oct-12 Load","h":18.5,"v":14.5},{"s":"Oct-12 Load","h":19,"v":14.6},{"s":"Oct-12 Load","h":19.5,"v":14.4},{"s":"Oct-12 Load","h":20,"v":14.1},{"s":"Oct-12 Load","h":20.5,"v":13.9},{"s":"Oct-12 Load","h":21,"v":13.5},{"s":"Oct-12 Load","h":21.5,"v":12.4},{"s":"Oct-12 Load","h":22,"v":11.8},{"s":"Oct-12 Load","h":22.5,"v":12.8},{"s":"Oct-12 Load","h":23,"v":13.8},{"s":"Oct-12 Load","h":23.5,"v":11.0},
{"s":"Nov-12 Load","h":0,"v":12.3},{"s":"Nov-12 Load","h":0.5,"v":11.7},{"s":"Nov-12 Load","h":1,"v":12.1},{"s":"Nov-12 Load","h":1.5,"v":13.4},{"s":"Nov-12 Load","h":2,"v":11.0},{"s":"Nov-12 Load","h":2.5,"v":8.3},{"s":"Nov-12 Load","h":3,"v":6.7},{"s":"Nov-12 Load","h":3.5,"v":6.0},{"s":"Nov-12 Load","h":4,"v":5.8},{"s":"Nov-12 Load","h":4.5,"v":5.9},{"s":"Nov-12 Load","h":5,"v":6.4},{"s":"Nov-12 Load","h":5.5,"v":7.5},{"s":"Nov-12 Load","h":6,"v":8.0},{"s":"Nov-12 Load","h":6.5,"v":9.2},{"s":"Nov-12 Load","h":7,"v":10.7},{"s":"Nov-12 Load","h":7.5,"v":10.3},{"s":"Nov-12 Load","h":8,"v":9.9},{"s":"Nov-12 Load","h":8.5,"v":9.6},{"s":"Nov-12 Load","h":9,"v":9.1},{"s":"Nov-12 Load","h":9.5,"v":8.8},{"s":"Nov-12 Load","h":10,"v":8.5},{"s":"Nov-12 Load","h":10.5,"v":8.4},{"s":"Nov-12 Load","h":11,"v":8.6},{"s":"Nov-12 Load","h":11.5,"v":8.8},{"s":"Nov-12 Load","h":12,"v":9.0},{"s":"Nov-12 Load","h":12.5,"v":9.3},{"s":"Nov-12 Load","h":13,"v":9.5},{"s":"Nov-12 Load","h":13.5,"v":9.6},{"s":"Nov-12 Load","h":14,"v":9.7},{"s":"Nov-12 Load","h":14.5,"v":9.7},{"s":"Nov-12 Load","h":15,"v":9.7},{"s":"Nov-12 Load","h":15.5,"v":9.9},{"s":"Nov-12 Load","h":16,"v":10.3},{"s":"Nov-12 Load","h":16.5,"v":10.9},{"s":"Nov-12 Load","h":17,"v":11.7},{"s":"Nov-12 Load","h":17.5,"v":13.3},{"s":"Nov-12 Load","h":18,"v":14.3},{"s":"Nov-12 Load","h":18.5,"v":14.5},{"s":"Nov-12 Load","h":19,"v":14.4},{"s":"Nov-12 Load","h":19.5,"v":14.2},{"s":"Nov-12 Load","h":20,"v":13.9},{"s":"Nov-12 Load","h":20.5,"v":13.8},{"s":"Nov-12 Load","h":21,"v":13.5},{"s":"Nov-12 Load","h":21.5,"v":12.6},{"s":"Nov-12 Load","h":22,"v":12.1},{"s":"Nov-12 Load","h":22.5,"v":13.3},{"s":"Nov-12 Load","h":23,"v":14.6},{"s":"Nov-12 Load","h":23.5,"v":11.4},
{"s":"Sep-12 Gen","h":0,"v":0},{"s":"Sep-12 Gen","h":6,"v":0},{"s":"Sep-12 Gen","h":6.5,"v":0.2},{"s":"Sep-12 Gen","h":7,"v":0.9},{"s":"Sep-12 Gen","h":7.5,"v":3.2},{"s":"Sep-12 Gen","h":8,"v":6.5},{"s":"Sep-12 Gen","h":8.5,"v":10.1},{"s":"Sep-12 Gen","h":9,"v":13.5},{"s":"Sep-12 Gen","h":9.5,"v":16.4},{"s":"Sep-12 Gen","h":10,"v":18.8},{"s":"Sep-12 Gen","h":10.5,"v":20.6},{"s":"Sep-12 Gen","h":11,"v":22.4},{"s":"Sep-12 Gen","h":11.5,"v":23.7},{"s":"Sep-12 Gen","h":12,"v":24.7},{"s":"Sep-12 Gen","h":12.5,"v":24.3},{"s":"Sep-12 Gen","h":13,"v":23.6},{"s":"Sep-12 Gen","h":13.5,"v":22.5},{"s":"Sep-12 Gen","h":14,"v":21.2},{"s":"Sep-12 Gen","h":14.5,"v":19.0},{"s":"Sep-12 Gen","h":15,"v":16.4},{"s":"Sep-12 Gen","h":15.5,"v":13.3},{"s":"Sep-12 Gen","h":16,"v":9.4},{"s":"Sep-12 Gen","h":16.5,"v":5.8},{"s":"Sep-12 Gen","h":17,"v":2.8},{"s":"Sep-12 Gen","h":17.5,"v":0.9},{"s":"Sep-12 Gen","h":18,"v":0.15},{"s":"Sep-12 Gen","h":18.5,"v":0},{"s":"Sep-12 Gen","h":23.5,"v":0},
{"s":"Oct-12 Gen","h":0,"v":0},{"s":"Oct-12 Gen","h":6.5,"v":0},{"s":"Oct-12 Gen","h":7,"v":0.6},{"s":"Oct-12 Gen","h":7.5,"v":2.1},{"s":"Oct-12 Gen","h":8,"v":4.9},{"s":"Oct-12 Gen","h":8.5,"v":8.2},{"s":"Oct-12 Gen","h":9,"v":11.3},{"s":"Oct-12 Gen","h":9.5,"v":14.3},{"s":"Oct-12 Gen","h":10,"v":16.8},{"s":"Oct-12 Gen","h":10.5,"v":19.2},{"s":"Oct-12 Gen","h":11,"v":21.1},{"s":"Oct-12 Gen","h":11.5,"v":22.4},{"s":"Oct-12 Gen","h":12,"v":23.2},{"s":"Oct-12 Gen","h":12.5,"v":23.5},{"s":"Oct-12 Gen","h":13,"v":23.8},{"s":"Oct-12 Gen","h":13.5,"v":23.9},{"s":"Oct-12 Gen","h":14,"v":23.4},{"s":"Oct-12 Gen","h":14.5,"v":22.3},{"s":"Oct-12 Gen","h":15,"v":20.8},{"s":"Oct-12 Gen","h":15.5,"v":18.8},{"s":"Oct-12 Gen","h":16,"v":16.5},{"s":"Oct-12 Gen","h":16.5,"v":13.6},{"s":"Oct-12 Gen","h":17,"v":10.3},{"s":"Oct-12 Gen","h":17.5,"v":6.8},{"s":"Oct-12 Gen","h":18,"v":3.7},{"s":"Oct-12 Gen","h":18.5,"v":1.4},{"s":"Oct-12 Gen","h":19,"v":0.4},{"s":"Oct-12 Gen","h":19.5,"v":0.05},{"s":"Oct-12 Gen","h":20,"v":0},{"s":"Oct-12 Gen","h":23.5,"v":0},
{"s":"Nov-12 Gen","h":0,"v":0},{"s":"Nov-12 Gen","h":6.5,"v":0},{"s":"Nov-12 Gen","h":7,"v":0.5},{"s":"Nov-12 Gen","h":7.5,"v":1.6},{"s":"Nov-12 Gen","h":8,"v":3.5},{"s":"Nov-12 Gen","h":8.5,"v":6.1},{"s":"Nov-12 Gen","h":9,"v":9.0},{"s":"Nov-12 Gen","h":9.5,"v":11.3},{"s":"Nov-12 Gen","h":10,"v":13.3},{"s":"Nov-12 Gen","h":10.5,"v":15.2},{"s":"Nov-12 Gen","h":11,"v":17.0},{"s":"Nov-12 Gen","h":11.5,"v":18.3},{"s":"Nov-12 Gen","h":12,"v":19.4},{"s":"Nov-12 Gen","h":12.5,"v":20.0},{"s":"Nov-12 Gen","h":13,"v":19.8},{"s":"Nov-12 Gen","h":13.5,"v":19.9},{"s":"Nov-12 Gen","h":14,"v":19.6},{"s":"Nov-12 Gen","h":14.5,"v":18.9},{"s":"Nov-12 Gen","h":15,"v":17.9},{"s":"Nov-12 Gen","h":15.5,"v":16.6},{"s":"Nov-12 Gen","h":16,"v":14.7},{"s":"Nov-12 Gen","h":16.5,"v":12.5},{"s":"Nov-12 Gen","h":17,"v":9.6},{"s":"Nov-12 Gen","h":17.5,"v":6.6},{"s":"Nov-12 Gen","h":18,"v":3.8},{"s":"Nov-12 Gen","h":18.5,"v":1.5},{"s":"Nov-12 Gen","h":19,"v":0.5},{"s":"Nov-12 Gen","h":19.5,"v":0.05},{"s":"Nov-12 Gen","h":20,"v":0},{"s":"Nov-12 Gen","h":23.5,"v":0}
]
},
"concat":[
{"width":477,"height":319,"data":{"name":"a"},
 "title":{"text":"Summer (Dec - Feb)","offset":3.5},
 "mark":{"type":"line","interpolate":"monotone","strokeWidth":3.2},
 "encoding":{
  "x":{"field":"h","type":"quantitative","scale":{"domain":[0,24],"nice":false,"zero":false},"axis":{"title":"(a)","values":[0,6,12,18,24],"labelExpr":"datum.value==6?'06:00:00 AM':datum.value==12?'12:00:00 PM':datum.value==18?'06:00:00 PM':'12:00:00 AM'"}},
  "y":{"field":"v","type":"quantitative","scale":{"domain":[0,35],"nice":false},"axis":{"title":"Average PV Generation Profile (kWh)","titleFontWeight":"normal","values":[0,5,10,15,20,25,30,35]}},
  "color":{"field":"s","type":"nominal","scale":{"domain":["Dec-12 Load","Jan-13 Load","Feb-13 Load","Dec-12 Gen","Jan-13 Gen","Feb-13 Gen"],"range":["#77933C","#0070C0","#FF0000","#77933C","#0070C0","#FF0000"]},"legend":{"title":null,"legendX":55,"legendY":0.5,"rowPadding":2.5,"columnPadding":60}},
  "strokeDash":{"field":"s","type":"nominal","scale":{"domain":["Dec-12 Load","Jan-13 Load","Feb-13 Load","Dec-12 Gen","Jan-13 Gen","Feb-13 Gen"],"range":[[10,5],[8,4],[15,9],[1,0],[1,0],[1,0]]},"legend":{"title":null,"legendX":55,"legendY":0.5,"rowPadding":2.5,"columnPadding":60}}
 }},
{"width":477,"height":319,"data":{"name":"b"},
 "title":{"text":"Fall (Mar - May)","offset":3.5},
 "mark":{"type":"line","interpolate":"monotone","strokeWidth":3.2},
 "encoding":{
  "x":{"field":"h","type":"quantitative","scale":{"domain":[0,24],"nice":false,"zero":false},"axis":{"title":"(b)","values":[0,6,12,18,24],"labelExpr":"datum.value==6?'06:00:00 AM':datum.value==12?'12:00:00 PM':datum.value==18?'06:00:00 PM':'12:00:00 AM'"}},
  "y":{"field":"v","type":"quantitative","scale":{"domain":[0,35],"nice":false},"axis":{"title":"Average PV Generation Profile (kWh)","titleFontWeight":"normal","values":[0,5,10,15,20,25,30,35]}},
  "color":{"field":"s","type":"nominal","scale":{"domain":["Mar-13 Load","Apr-13 Load","May-13 Load","Mar-13 Gen","Apr-13 Gen","May-13 Gen"],"range":["#77933C","#0070C0","#FF0000","#77933C","#0070C0","#FF0000"]},"legend":{"title":null,"legendX":48,"legendY":0,"rowPadding":1,"columnPadding":53.5}},
  "strokeDash":{"field":"s","type":"nominal","scale":{"domain":["Mar-13 Load","Apr-13 Load","May-13 Load","Mar-13 Gen","Apr-13 Gen","May-13 Gen"],"range":[[10,5],[8,4],[15,9],[1,0],[1,0],[1,0]]},"legend":{"title":null,"legendX":48,"legendY":0,"rowPadding":1,"columnPadding":53.5}}
 }},
{"width":477,"height":324,"data":{"name":"c"},
 "title":{"text":"Winter (Jun - Aug)","offset":0.5},
 "mark":{"type":"line","interpolate":"monotone","strokeWidth":3.2},
 "encoding":{
  "x":{"field":"h","type":"quantitative","scale":{"domain":[0,24],"nice":false,"zero":false},"axis":{"title":"(c)","values":[0,6,12,18,24],"labelExpr":"datum.value==6?'06:00:00 AM':datum.value==12?'12:00:00 PM':datum.value==18?'06:00:00 PM':'12:00:00 AM'"}},
  "y":{"field":"v","type":"quantitative","scale":{"domain":[0,35],"nice":false},"axis":{"title":"Average PV Generation Profile (kWh)","titleFontWeight":"bold","values":[0,5,10,15,20,25,30,35]}},
  "color":{"field":"s","type":"nominal","scale":{"domain":["Jul-12 Load","Aug-12 Load","Jun-13 Load","Jul-12 Gen","Aug-12 Gen","Jun-13 Gen"],"range":["#77933C","#0070C0","#FF0000","#77933C","#0070C0","#FF0000"]},"legend":{"title":null,"legendX":54,"legendY":4,"rowPadding":5,"columnPadding":58.7}},
  "strokeDash":{"field":"s","type":"nominal","scale":{"domain":["Jul-12 Load","Aug-12 Load","Jun-13 Load","Jul-12 Gen","Aug-12 Gen","Jun-13 Gen"],"range":[[10,5],[8,4],[15,9],[1,0],[1,0],[1,0]]},"legend":{"title":null,"legendX":54,"legendY":4,"rowPadding":5,"columnPadding":58.7}}
 }},
{"width":477,"height":324,"data":{"name":"d"},
 "title":{"text":"Spring (Sep - Nov)","offset":0.5},
 "mark":{"type":"line","interpolate":"monotone","strokeWidth":3.2},
 "encoding":{
  "x":{"field":"h","type":"quantitative","scale":{"domain":[0,24],"nice":false,"zero":false},"axis":{"title":"(d)","values":[0,6,12,18,24],"labelExpr":"datum.value==6?'06:00:00 AM':datum.value==12?'12:00:00 PM':datum.value==18?'06:00:00 PM':'12:00:00 AM'"}},
  "y":{"field":"v","type":"quantitative","scale":{"domain":[0,35],"nice":false},"axis":{"title":"Average PV Generation Profile (kWh)","titleFontWeight":"bold","values":[0,5,10,15,20,25,30,35]}},
  "color":{"field":"s","type":"nominal","scale":{"domain":["Sep-12 Load","Oct-12 Load","Nov-12 Load","Sep-12 Gen","Oct-12 Gen","Nov-12 Gen"],"range":["#77933C","#0070C0","#FF0000","#77933C","#0070C0","#FF0000"]},"legend":{"title":null,"legendX":41,"legendY":5.7,"rowPadding":1.2,"columnPadding":59.9}},
  "strokeDash":{"field":"s","type":"nominal","scale":{"domain":["Sep-12 Load","Oct-12 Load","Nov-12 Load","Sep-12 Gen","Oct-12 Gen","Nov-12 Gen"],"range":[[10,5],[8,4],[15,9],[1,0],[1,0],[1,0]]},"legend":{"title":null,"legendX":41,"legendY":5.7,"rowPadding":1.2,"columnPadding":59.9}}
 }}
],
"columns":2,
"spacing":{"row":122,"column":152},
"bounds":"flush",
"resolve":{"scale":{"color":"independent","strokeDash":"independent"},"legend":{"color":"independent","strokeDash":"independent"}}
}
